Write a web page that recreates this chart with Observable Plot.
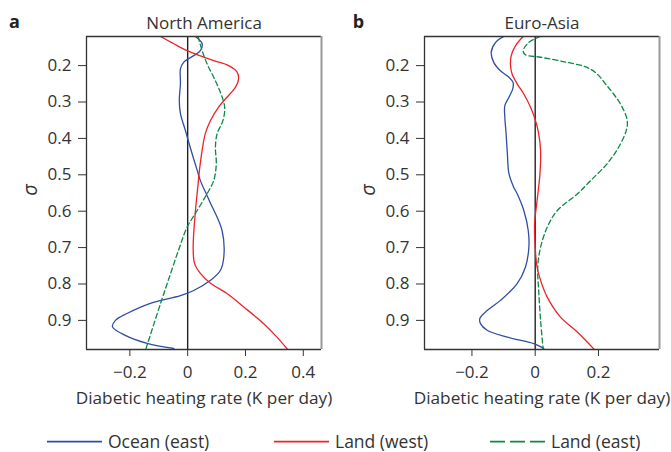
<!DOCTYPE html>
<html>
<head>
<meta charset="utf-8">
<script src="https://cdn.jsdelivr.net/npm/d3@7"></script>
<script src="https://cdn.jsdelivr.net/npm/@observablehq/plot@0.6"></script>
<style>
  html, body { margin: 0; padding: 0; background: #fff; }
  #wrap { position: relative; width: 671px; height: 452px; font-family: "Open Sans", sans-serif; color: #333; }
  #pa { position: absolute; left: 0; top: 0; }
  #pb { position: absolute; left: 340px; top: 0; }
  #leg { position: absolute; left: 0; top: 420px; }
</style>
</head>
<body>
<div id="wrap"><div id="pa"></div><div id="pb"></div><div id="leg"></div></div>
<script>
// ---- Data: [sigma, diabatic heating rate (K/day)] ----
const naOcean = [[0.120,0.027],[0.140,0.050],[0.159,0.044],[0.191,-0.014],[0.209,-0.025],[0.249,-0.025],[0.296,-0.029],[0.332,-0.025],[0.378,-0.008],[0.425,0.009],[0.488,0.033],[0.516,0.044],[0.571,0.075],[0.653,0.119],[0.726,0.125],[0.763,0.113],[0.790,0.079],[0.818,0.021],[0.832,-0.025],[0.853,-0.129],[0.881,-0.210],[0.900,-0.250],[0.918,-0.260],[0.941,-0.216],[0.963,-0.140],[0.977,-0.048]];
const naLandWest = [[0.120,-0.094],[0.140,-0.048],[0.159,-0.002],[0.173,0.044],[0.186,0.090],[0.200,0.142],[0.218,0.171],[0.237,0.176],[0.260,0.165],[0.287,0.136],[0.314,0.107],[0.351,0.079],[0.387,0.061],[0.433,0.050],[0.479,0.042],[0.534,0.035],[0.598,0.027],[0.699,0.019],[0.744,0.024],[0.771,0.044],[0.798,0.079],[0.826,0.136],[0.863,0.194],[0.909,0.263],[0.946,0.309],[0.980,0.346]];
const naLandEast = [[0.120,0.036],[0.159,0.050],[0.195,0.067],[0.232,0.090],[0.273,0.113],[0.314,0.128],[0.351,0.122],[0.387,0.102],[0.424,0.096],[0.470,0.099],[0.516,0.090],[0.552,0.067],[0.598,0.033],[0.644,-0.002],[0.708,-0.032],[0.790,-0.067],[0.854,-0.094],[0.977,-0.144]];
const eaOcean = [[0.120,-0.099],[0.136,-0.125],[0.163,-0.139],[0.191,-0.131],[0.214,-0.110],[0.232,-0.083],[0.246,-0.070],[0.264,-0.071],[0.287,-0.083],[0.310,-0.096],[0.342,-0.096],[0.387,-0.092],[0.442,-0.088],[0.497,-0.083],[0.534,-0.068],[0.552,-0.057],[0.598,-0.036],[0.653,-0.022],[0.699,-0.020],[0.754,-0.031],[0.799,-0.057],[0.845,-0.110],[0.873,-0.152],[0.895,-0.175],[0.909,-0.173],[0.927,-0.152],[0.946,-0.088],[0.964,-0.004],[0.977,0.027]];
const eaLandWest = [[0.120,-0.038],[0.145,-0.062],[0.173,-0.076],[0.200,-0.078],[0.223,-0.073],[0.250,-0.057],[0.278,-0.036],[0.314,-0.015],[0.351,0.001],[0.387,0.011],[0.433,0.017],[0.497,0.015],[0.571,0.006],[0.635,-0.002],[0.699,0.000],[0.754,0.006],[0.790,0.017],[0.836,0.038],[0.891,0.080],[0.932,0.133],[0.980,0.187]];
const eaLandEast = [[0.120,0.017],[0.136,-0.020],[0.159,-0.038],[0.170,-0.031],[0.177,0.017],[0.191,0.101],[0.205,0.164],[0.223,0.196],[0.250,0.222],[0.278,0.248],[0.314,0.275],[0.351,0.291],[0.378,0.288],[0.424,0.264],[0.470,0.227],[0.516,0.175],[0.552,0.134],[0.598,0.070],[0.644,0.038],[0.699,0.017],[0.754,0.008],[0.818,0.011],[0.900,0.017],[0.977,0.025]];

const seriesNames = ["Ocean (east)", "Land (west)", "Land (east)"];
const seriesColors = ["#2f4ea3", "#ee2229", "#0b8a45"];
const seriesDash = [null, null, "5,3"];
const sigmaTicks = [0.2, 0.3, 0.4, 0.5, 0.6, 0.7, 0.8, 0.9];
const sigmaDomain = [0.12, 0.98];
const naRateTicks = [-0.2, 0, 0.2, 0.4];
const eaRateTicks = [-0.2, 0, 0.2];
const naRateDomain = [-0.35, 0.463];
const eaRateDomain = [-0.35, 0.393];
const xLabel = "Diabetic heating rate (K per day)";

const FONT = '"Open Sans", sans-serif';
const fmtX = d => d === 0 ? "0" : d3.format(".1f")(d);
const fmtY = d3.format(".1f");

function panel({letter, title, series, xDomain, xTicks, width, marginLeft, marginRight, letterX, sigmaX}) {
  const rows = [];
  series.forEach((s, i) => s.forEach(([sigma, rate]) => rows.push({series: seriesNames[i], sigma, rate, i})));
  const lines = series.map((s, i) => Plot.line(rows.filter(r => r.i === i), {
    x: "rate", y: "sigma", stroke: seriesColors[i], strokeWidth: 1.3,
    strokeDasharray: seriesDash[i] || undefined, curve: "catmull-rom", clip: true
  }));
  const height = 420, marginTop = 36, marginBottom = 71;
  return Plot.plot({
    width, height, marginLeft, marginRight, marginTop, marginBottom,
    style: {fontFamily: FONT, fontSize: "17px", color: "#333", background: "transparent", overflow: "visible"},
    x: {domain: xDomain, label: null},
    y: {domain: sigmaDomain, reverse: true, label: null},
    marks: [
      Plot.axisX({ticks: xTicks, tickFormat: () => "", tickSize: 7, label: null, stroke: "#333"}),
      Plot.axisY({ticks: sigmaTicks, tickFormat: () => "", tickSize: 8, label: null, stroke: "#333"}),
      Plot.text(xTicks, {x: d => d, text: fmtX, frameAnchor: "bottom", dy: 23, fontSize: 17, fill: "#333", lineAnchor: "middle"}),
      Plot.text(sigmaTicks, {y: d => d, text: fmtY, frameAnchor: "left", dx: -15, fontSize: 17, fill: "#333", textAnchor: "end", lineAnchor: "middle"}),
      Plot.ruleX([0], {stroke: "#222", strokeWidth: 1.4}),
      ...lines,
      Plot.ruleY([sigmaDomain[0]], {stroke: "#333", strokeWidth: 1.3}),
      Plot.ruleY([sigmaDomain[1]], {stroke: "#333", strokeWidth: 1.6}),
      Plot.ruleX([xDomain[0]], {stroke: "#333", strokeWidth: 1.3}),
      Plot.ruleX([xDomain[1]], {stroke: "#999", strokeWidth: 2}),
      Plot.text([title], {frameAnchor: "top", dy: -13, fontSize: 17, fill: "#333", lineAnchor: "middle"}),
      Plot.text([letter], {frameAnchor: "top-left", dx: letterX - marginLeft, dy: -14, fontSize: 18, fontWeight: "bold", fill: "#222", textAnchor: "middle", lineAnchor: "middle"}),
      Plot.text(["σ"], {frameAnchor: "left", dx: sigmaX - marginLeft, dy: -3, rotate: -90, fontSize: 20, fontStyle: "italic", fill: "#333", textAnchor: "middle", lineAnchor: "middle"}),
      Plot.text([xLabel], {frameAnchor: "bottom", dy: 49, fontSize: 17.2, fill: "#333", lineAnchor: "middle"})
    ]
  });
}

document.getElementById("pa").append(panel({
  letter: "a", title: "North America", series: [naOcean, naLandWest, naLandEast],
  xDomain: naRateDomain, xTicks: naRateTicks, width: 340, marginLeft: 86, marginRight: 19, letterX: 14, sigmaX: 30
}));
document.getElementById("pb").append(panel({
  letter: "b", title: "Euro-Asia", series: [eaOcean, eaLandWest, eaLandEast],
  xDomain: eaRateDomain, xTicks: eaRateTicks, width: 331, marginLeft: 84, marginRight: 12, letterX: 18, sigmaX: 28
}));

// ---- Legend ----
const legendX = [47, 274, 490];
const svgNS = "http://www.w3.org/2000/svg";
const leg = document.createElementNS(svgNS, "svg");
leg.setAttribute("width", 671); leg.setAttribute("height", 32);
seriesNames.forEach((name, i) => {
  const l = document.createElementNS(svgNS, "line");
  l.setAttribute("x1", legendX[i]); l.setAttribute("x2", legendX[i] + 55);
  l.setAttribute("y1", 21.7); l.setAttribute("y2", 21.7);
  l.setAttribute("stroke", seriesColors[i]); l.setAttribute("stroke-width", 1.8);
  if (seriesDash[i]) l.setAttribute("stroke-dasharray", "15,5");
  leg.append(l);
  const t = document.createElementNS(svgNS, "text");
  t.setAttribute("x", legendX[i] + 61); t.setAttribute("y", 28);
  t.setAttribute("font-family", FONT); t.setAttribute("font-size", 17.5); t.setAttribute("fill", "#333");
  t.textContent = name;
  leg.append(t);
});
document.getElementById("leg").append(leg);
</script>
</body>
</html>
